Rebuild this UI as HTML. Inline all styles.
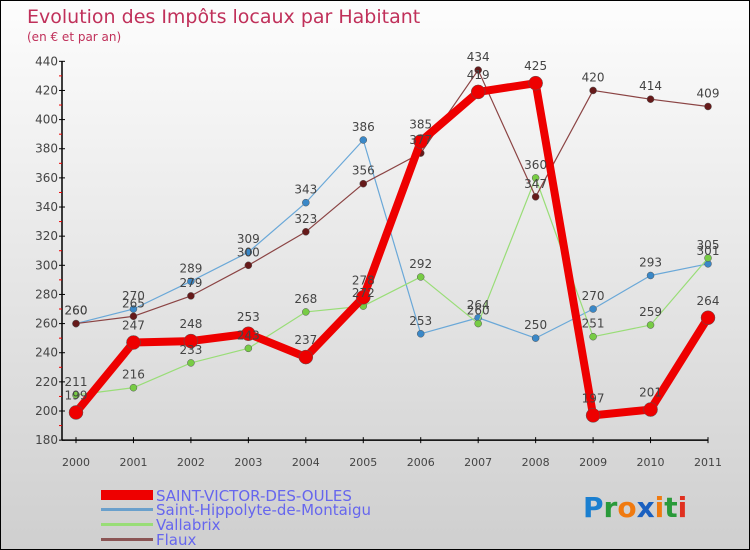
<!DOCTYPE html>
<html><head><meta charset="utf-8"><style>
body{margin:0;}
#wrap{position:relative;width:750px;height:550px;box-sizing:border-box;border:1px solid #000;background:linear-gradient(#fdfdfd,#cfcfcf);overflow:hidden;font-family:"DejaVu Sans","Liberation Sans",sans-serif;}
svg text{font-family:"DejaVu Sans","Liberation Sans",sans-serif;}
</style></head><body>
<div id="wrap">
<svg id="chart" width="750" height="550">
<text x="26" y="22" font-size="19" fill="#c0305a">Evolution des Impôts locaux par Habitant</text>
<text x="26" y="40" font-size="12" fill="#c0305a">(en € et par an)</text>
<g id="axes"></g><g id="series"></g><g id="labels"></g>
<g>
<rect x="100" y="489" width="52" height="10" fill="#e00"/>
<text x="155" y="500" font-size="15" fill="#6666ee">SAINT-VICTOR-DES-OULES</text>
<rect x="100" y="507" width="52" height="3" fill="#6aa0cc"/>
<text x="155" y="514" font-size="15" fill="#6666ee">Saint-Hippolyte-de-Montaigu</text>
<rect x="100" y="522" width="52" height="3" fill="#99dd77"/>
<text x="155" y="529" font-size="15" fill="#6666ee">Vallabrix</text>
<rect x="100" y="537" width="52" height="3" fill="#8b5555"/>
<text x="155" y="544" font-size="15" fill="#6666ee">Flaux</text>
</g>
<g font-size="28" font-weight="bold">
<text x="582" y="516"><tspan fill="#1a7fd0">P</tspan><tspan fill="#2a9a3a">r</tspan><tspan fill="#f07a10">o</tspan><tspan fill="#1a60c0">x</tspan><tspan fill="#f07a10">i</tspan><tspan fill="#2a9a3a">t</tspan><tspan fill="#e03020">i</tspan></text>
</g>
</svg>
</div>
<script>
const years=["2000","2001","2002","2003","2004","2005","2006","2007","2008","2009","2010","2011"];
const yTicks=[180,200,220,240,260,280,300,320,340,360,380,400,420,440];
const svdo=[199,247,248,253,237,278,385,419,425,197,201,264];
const hippolyte=[260,270,289,309,343,386,253,264,250,270,293,301];
const vallabrix=[211,216,233,243,268,272,292,260,360,251,259,305];
const flaux=[260,265,279,300,323,356,377,434,347,420,414,409];
const NS="http://www.w3.org/2000/svg";
const xs=i=>75+i*(707-75)/11;
const ys=v=>410-(v-200)*1.457;
function mk(tag,attrs,parent){const e=document.createElementNS(NS,tag);for(const k in attrs)e.setAttribute(k,attrs[k]);parent.appendChild(e);return e;}
const ax=document.getElementById('axes');
let a=mk('line',{x1:61,y1:ys(440),x2:61,y2:ys(180),stroke:'#000','stroke-width':1.5},ax);


a=mk('line',{x1:61,y1:ys(180),x2:707,y2:ys(180),stroke:'#000','stroke-width':1.5},ax);


yTicks.forEach((v,i)=>{
 mk('line',{x1:58,y1:ys(v),x2:64,y2:ys(v),stroke:'#000'},ax);
 if(i<yTicks.length-1) mk('line',{x1:58,y1:ys(v+10),x2:61,y2:ys(v+10),stroke:'#e00'},ax);
 const t=mk('text',{x:57,y:ys(v)+4,'font-size':12,fill:'#444','text-anchor':'end'},ax);
 t.textContent=v;
 
 
});
years.forEach((y,i)=>{
 mk('line',{x1:xs(i),y1:ys(180)-3,x2:xs(i),y2:ys(180)+3,stroke:'#000'},ax);
 const t=mk('text',{x:xs(i),y:465,'font-size':11,fill:'#444','text-anchor':'middle'},ax);
 t.textContent=y;
 
 
});
const sg=document.getElementById('series'),lg=document.getElementById('labels');
function draw(data,color,dot,w,r,name){
 const g=mk('g',{},sg);
 
 
 const p=mk('polyline',{points:data.map((v,i)=>xs(i)+','+ys(v)).join(' '),fill:'none',stroke:color,'stroke-width':w,'stroke-linejoin':'round'},g);
 
 
 data.forEach((v,i)=>{
  const c=mk('circle',{cx:xs(i),cy:ys(v),r:r,fill:dot,stroke:'#555','stroke-width':0.5},g);
  
  
  const t=mk('text',{x:xs(i),y:ys(v)-9-(r>5?4:0),'font-size':12,fill:'#444','text-anchor':'middle'},lg);
  t.textContent=v;
  
  
 });
}
draw(hippolyte,'#6aa8d8','#3a88c8',1.2,3.5,'saint-hippolyte');
draw(vallabrix,'#99dd77','#77cc44',1.2,3.5,'vallabrix');
draw(flaux,'#8b4444','#661a1a',1.2,3.5,'flaux');
draw(svdo,'#ee0000','#ee0000',8,7,'saint-victor');
</script>
</body></html>
